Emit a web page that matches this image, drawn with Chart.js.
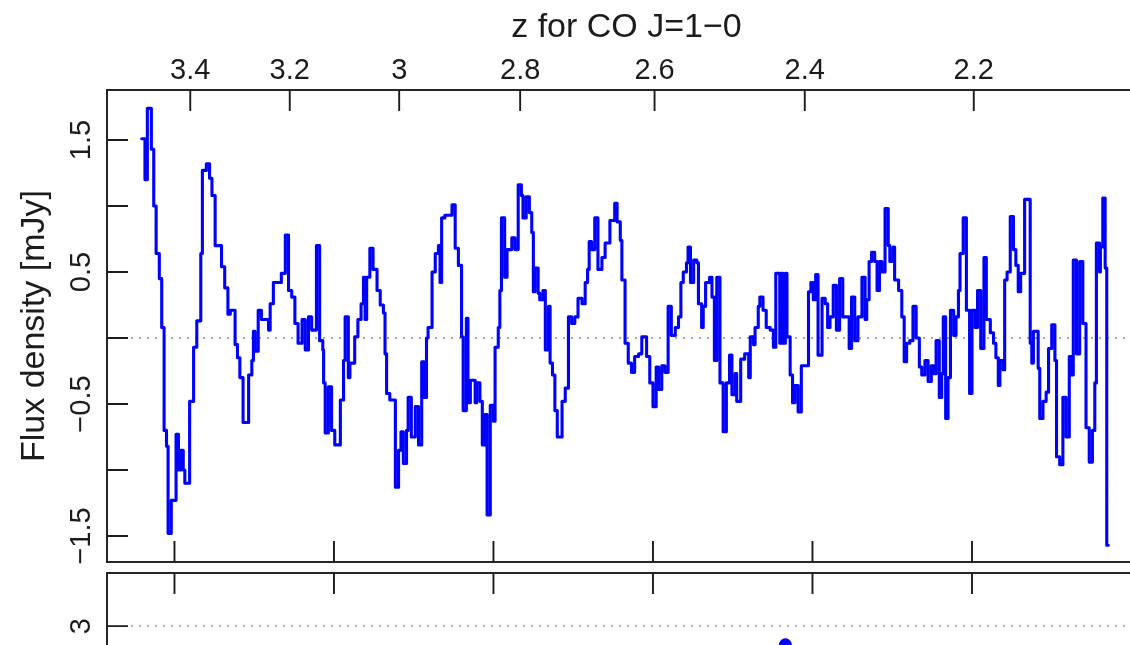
<!DOCTYPE html>
<html>
<head>
<meta charset="utf-8">
<script src="https://cdn.jsdelivr.net/npm/chart.js@4/dist/chart.umd.min.js"></script>
<style>
html, body { margin: 0; padding: 0; background: #fff; overflow: hidden; width: 1130px; height: 645px; }
#wrap { position: relative; width: 1130px; height: 645px; overflow: hidden; background: #fff; }
canvas { position: absolute; left: 0; }
#upper { top: 0; }
#lower { top: 566px; }
</style>
</head>
<body>
<div id="wrap">
  <canvas id="upper" width="1160" height="566"></canvas>
  <canvas id="lower" width="1160" height="200"></canvas>
</div>
<script>
// ---- data (step start frequency in GHz, flux density in mJy) ----
const freqGHz = [
  25.59,25.63,25.66,25.71,25.74,25.77,25.81,25.84,25.87,25.90,25.92,25.96,26.02,26.05,26.08,26.11,26.13,26.19,26.24,26.28,
  26.33,26.35,26.40,26.44,26.47,26.51,26.59,26.63,26.67,26.70,26.76,26.79,26.82,26.86,26.93,26.97,26.99,
  27.01,27.05,27.09,27.18,27.20,27.24,27.34,27.39,27.43,27.47,27.51,27.55,27.60,27.64,27.68,27.72,27.78,27.82,27.86,27.87,
  27.89,27.93,27.97,28.01,28.08,28.12,28.14,28.18,28.20,28.26,28.30,28.34,28.37,28.39,28.41,28.45,28.49,28.54,28.58,
  28.62,28.64,28.66,28.70,28.77,28.81,28.84,28.87,28.91,28.93,28.97,29.02,29.06,29.10,29.13,29.16,29.18,29.23,29.27,29.31,
  29.33,29.35,29.39,29.48,29.52,29.56,29.60,29.62,29.66,29.68,29.71,29.77,29.79,29.83,29.86,29.89,29.92,29.96,30.00,30.02,
  30.06,30.08,30.10,
  30.14,30.17,30.23,30.27,30.31,30.35,30.37,30.41,30.45,30.48,30.50,30.52,30.56,30.58,30.62,30.65,30.69,30.71,30.74,30.77,
  30.80,30.86,30.90,30.94,30.98,31.02,31.06,31.11,31.15,31.18,31.20,31.23,31.27,31.31,31.36,31.40,31.46,31.52,31.55,31.59,31.61,
  31.65,31.69,31.73,31.77,31.82,31.86,31.92,31.96,32.00,32.04,32.07,32.11,32.15,32.19,32.23,32.28,32.32,32.35,32.38,32.42,
  32.44,32.47,32.51,32.55,32.57,32.61,32.63,32.66,32.71,32.74,32.77,32.80,32.84,32.88,32.92,32.96,32.99,33.03,33.05,33.10,
  33.15,33.20,33.22,33.26,33.28,33.32,33.34,33.38,33.42,33.47,33.51,33.54,33.59,33.61,33.63,33.66,33.68,33.72,33.75,33.78,
  33.82,33.86,33.95,33.98,34.01,34.04,34.07,34.12,34.16,34.19,34.22,34.26,34.30,34.34,34.38,34.46,34.49,34.53,34.57,34.62,
  34.66,34.68,34.71,34.74,34.78,34.81,34.84,34.87,34.91,34.95,34.97,35.01,35.03,35.08,35.12,35.15,35.18,35.22,35.26,35.30,
  35.34,35.37,35.41,35.45,35.49,35.52,35.55,35.59,35.62,35.64,35.67,35.70,35.73,35.77,35.80,35.83,35.85,35.89,35.93,35.97,
  36.00,36.04,36.07,36.11,36.15,
  36.18,36.23,36.27,36.30,36.33,36.35,36.39,36.41,36.44,36.48,36.52,36.55,36.58,36.61,36.66,36.73,36.75,36.77,36.83,36.85,
  36.89,36.93,36.96,37.00,37.04,37.06,37.10,37.14,37.18,37.22,37.25,37.27,37.31,37.35,37.39,37.43,37.47,37.51,37.54,37.56,
  37.60,37.61,37.64,37.67,37.69,37.71
];
const fluxMJy = [
  1.51,1.20,1.74,1.43,1.00,0.64,0.45,0.08,-0.70,-0.82,-1.48,-1.23,-0.73,-1.00,-0.85,-1.00,-1.10,-0.48,-0.07,0.13,
  0.64,1.27,1.32,1.21,1.08,0.70,0.54,0.38,0.18,0.21,-0.05,-0.15,-0.30,-0.64,-0.28,-0.17,0.05,
  -0.10,0.21,0.14,0.06,0.26,0.42,0.49,0.78,0.36,0.31,0.11,-0.04,0.14,-0.09,0.16,0.06,0.70,-0.02,-0.09,-0.34,
  -0.72,-0.37,-0.70,-0.81,-0.47,-0.17,0.16,-0.30,-0.19,0.01,0.14,0.26,0.46,0.14,0.46,0.68,0.52,0.36,0.25,
  0.19,-0.12,-0.42,-0.47,-1.13,-0.85,-0.71,-0.95,-0.70,-0.45,-0.75,-0.52,-0.81,-0.18,-0.45,0.00,0.08,0.50,0.64,0.70,
  0.42,0.91,0.93,1.01,0.68,0.55,0.01,-0.55,0.15,-0.49,-0.32,-0.49,-0.34,-0.48,-0.81,-0.58,-1.34,-0.51,-0.63,-0.07,
  0.08,0.36,0.91,
  0.46,0.67,0.76,0.67,1.16,1.08,0.91,1.07,0.95,0.80,0.35,0.53,0.34,0.29,0.36,-0.09,0.24,-0.19,-0.28,-0.55,
  -0.75,-0.48,-0.38,0.16,0.11,0.16,0.30,0.26,0.42,0.52,0.73,0.67,0.91,0.52,0.61,0.72,0.89,1.02,0.88,0.74,0.44,
  -0.04,-0.19,-0.26,-0.14,-0.12,0.01,-0.14,-0.34,-0.52,-0.22,-0.39,-0.21,-0.26,0.24,0.02,0.08,0.16,0.42,0.50,0.57,
  0.69,0.42,0.59,0.57,0.26,0.08,0.24,0.42,0.46,0.31,-0.17,0.46,-0.34,-0.71,-0.34,-0.13,-0.43,-0.27,-0.48,-0.16,
  -0.12,-0.30,0.01,-0.05,0.08,0.24,0.31,0.21,0.08,0.06,-0.07,0.49,-0.04,0.49,-0.04,0.49,0.01,-0.28,-0.49,-0.36,
  -0.56,-0.21,0.35,0.42,0.29,0.48,-0.13,0.30,0.26,0.08,0.16,0.40,0.06,0.45,0.16,-0.08,0.31,-0.02,0.16,0.46,
  0.14,0.29,0.58,0.65,0.58,0.36,0.58,0.50,0.98,0.70,0.58,0.69,0.44,0.36,0.16,-0.18,-0.04,-0.02,0.24,0.00,
  -0.22,-0.28,-0.17,-0.33,-0.21,-0.27,-0.02,-0.45,-0.27,0.16,-0.61,-0.30,0.21,0.02,0.16,0.36,0.64,0.91,0.21,-0.42,
  0.21,0.08,0.36,-0.08,0.61,
  0.14,0.04,-0.04,-0.15,-0.36,-0.17,-0.24,0.44,0.50,0.92,0.67,0.55,0.35,0.49,1.05,-0.04,-0.19,0.05,-0.23,-0.61,
  -0.48,-0.41,-0.08,0.10,-0.17,-0.90,-0.96,-0.45,-0.75,-0.14,-0.28,0.59,-0.12,0.58,0.11,-0.68,-0.94,-0.70,-0.34,0.72,
  0.50,0.69,1.06,0.53,-1.57,-1.57
];
// lower panel: the single visible point
const lowerFreqGHz = [33.66];
const lowerValue = [2.86];

// ---- axes ----
const CO10_REST_GHZ = 115.2712;
const freqTicksGHz = [26, 28, 30, 32, 34, 36, 38];
const zTicks = [3.4, 3.2, 3.0, 2.8, 2.6, 2.4, 2.2];
const zTickLabels = ['3.4', '3.2', '3', '2.8', '2.6', '2.4', '2.2'];
const fluxTicks = [1.5, 1.0, 0.5, 0.0, -0.5, -1.0, -1.5];
const fluxTickLabels = ['1.5', '', '0.5', '', '\u22120.5', '', '\u22121.5'];
const lowerTicks = [3];
const lowerTickLabels = ['3'];
const topTitle = 'z for CO J=1\u22120';
const yTitle = 'Flux density [mJy]';

const X_MIN = 25.154, X_MAX = 38.182;
const Y_MIN = -1.697, Y_MAX = 1.879;
const LOW_MIN = 2.0, LOW_MAX = 3.4;

const INK = '#1c1c1c';
const FONT = '"Liberation Sans", Arial, Helvetica, sans-serif';
const TICK_FS = 29, TITLE_FS = 34;
const TL = 21;

function text(ctx, s, x, y, size, rotate) {
  ctx.save();
  ctx.translate(x, y);
  if (rotate) ctx.rotate(-Math.PI / 2);
  ctx.font = size + 'px ' + FONT;
  ctx.fillStyle = INK;
  ctx.textAlign = 'center';
  ctx.textBaseline = 'alphabetic';
  ctx.fillText(s, 0, 0);
  ctx.restore();
}

function framePlugin(cfg) {
  return {
    id: 'rframe',
    beforeDraw(chart) {
      const c = chart.ctx;
      c.save(); c.fillStyle = '#fff'; c.fillRect(0, 0, chart.width, chart.height); c.restore();
    },
    afterDatasetsDraw(chart) {
      const { ctx, chartArea: a, scales: { x, y } } = chart;
      ctx.save();
      ctx.strokeStyle = INK;
      ctx.lineWidth = 1.9;
      ctx.strokeRect(a.left, a.top, a.right - a.left, a.bottom - a.top);
      ctx.beginPath();
      if (cfg.topZ) {
        zTicks.forEach(z => {
          const px = x.getPixelForValue(CO10_REST_GHZ / (1 + z));
          ctx.moveTo(px, a.top); ctx.lineTo(px, a.top + TL);
        });
      }
      if (cfg.bottomFreq) {
        freqTicksGHz.forEach(f => {
          const px = x.getPixelForValue(f);
          ctx.moveTo(px, a.bottom); ctx.lineTo(px, a.bottom - TL);
        });
      }
      if (cfg.topFreq) {
        freqTicksGHz.forEach(f => {
          const px = x.getPixelForValue(f);
          ctx.moveTo(px, a.top); ctx.lineTo(px, a.top + TL);
        });
      }
      cfg.yTicks.forEach(v => {
        const py = y.getPixelForValue(v);
        ctx.moveTo(a.left, py); ctx.lineTo(a.left + TL, py);
      });
      ctx.stroke();
      ctx.restore();

      if (cfg.topZ) {
        zTicks.forEach((z, i) => {
          const px = x.getPixelForValue(CO10_REST_GHZ / (1 + z));
          text(ctx, zTickLabels[i], px, 79, TICK_FS, false);
        });
        text(ctx, topTitle, (a.left + a.right) / 2, 37, TITLE_FS, false);
      }
      cfg.yTicks.forEach((v, i) => {
        const lab = cfg.yLabels[i];
        if (lab) text(ctx, lab, 90, y.getPixelForValue(v), TICK_FS, true);
      });
      if (cfg.yTitle) text(ctx, cfg.yTitle, 44, (a.top + a.bottom) / 2, TITLE_FS, true);
    }
  };
}

const upperPoints = freqGHz.map((f, i) => ({ x: f, y: fluxMJy[i] }));
const lowerPoints = lowerFreqGHz.map((f, i) => ({ x: f, y: lowerValue[i] }));

const common = {
  responsive: false,
  animation: false,
  devicePixelRatio: 1,
  events: [],
  plugins: { legend: { display: false }, tooltip: { enabled: false } }
};

new Chart(document.getElementById('upper'), {
  type: 'line',
  data: {
    datasets: [
      {
        data: upperPoints,
        borderColor: '#0000ff',
        borderWidth: 3.1,
        stepped: 'before',
        pointRadius: 0,
        fill: false,
        borderJoinStyle: 'round',
        borderCapStyle: 'round',
        order: 0
      },
      {
        data: [{ x: X_MIN, y: 0 }, { x: X_MAX, y: 0 }],
        borderColor: '#8a8a8a',
        borderWidth: 1.4,
        borderDash: [2, 6],
        pointRadius: 0,
        fill: false,
        order: 1
      }
    ]
  },
  options: Object.assign({}, common, {
    layout: { padding: { left: 107, top: 90, right: 14, bottom: 4 } },
    scales: {
      x: { type: 'linear', min: X_MIN, max: X_MAX, display: false },
      y: { type: 'linear', min: Y_MIN, max: Y_MAX, display: false }
    }
  }),
  plugins: [framePlugin({ topZ: true, bottomFreq: true, yTicks: fluxTicks, yLabels: fluxTickLabels, yTitle: yTitle })]
});

new Chart(document.getElementById('lower'), {
  type: 'line',
  data: {
    datasets: [
      {
        data: lowerPoints,
        showLine: false,
        pointRadius: 6,
        pointBackgroundColor: '#0000ff',
        pointBorderColor: '#0000ff',
        borderColor: '#0000ff',
        order: 0
      },
      {
        data: [{ x: X_MIN, y: 3 }, { x: X_MAX, y: 3 }],
        borderColor: '#8a8a8a',
        borderWidth: 1.4,
        borderDash: [2, 6],
        pointRadius: 0,
        fill: false,
        order: 1
      }
    ]
  },
  options: Object.assign({}, common, {
    layout: { padding: { left: 107, top: 5, right: 14, bottom: 5 } },
    scales: {
      x: { type: 'linear', min: X_MIN, max: X_MAX, display: false },
      y: { type: 'linear', min: LOW_MIN, max: LOW_MAX, display: false }
    }
  }),
  plugins: [framePlugin({ topFreq: true, yTicks: lowerTicks, yLabels: lowerTickLabels })]
});
</script>
</body>
</html>
